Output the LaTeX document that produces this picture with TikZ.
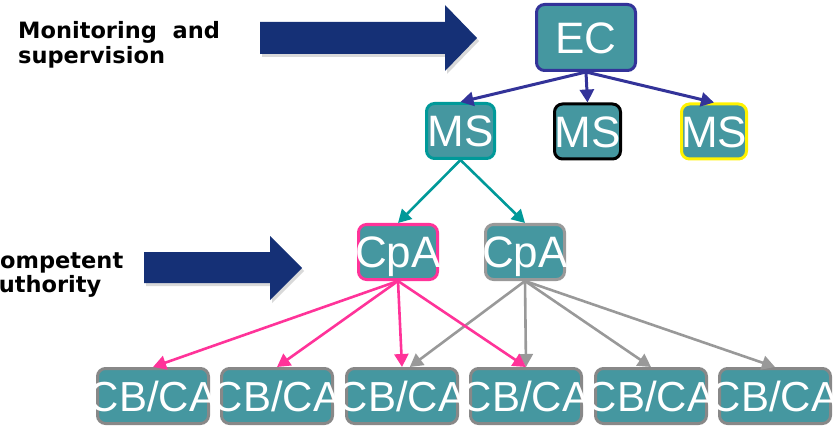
\documentclass[tikz,border=0pt]{standalone}
\usepackage{fontspec}
\setmainfont{Liberation Sans}
\newfontfamily\sidefont{DejaVu Sans}
\usetikzlibrary{arrows.meta}

\definecolor{boxteal}{RGB}{69,151,160}
\definecolor{ecblue}{RGB}{51,51,153}
\definecolor{msteal}{RGB}{0,153,153}
\definecolor{cpapink}{RGB}{255,51,153}
\definecolor{cpagray}{RGB}{153,153,153}
\definecolor{cbgray}{RGB}{136,136,136}
\definecolor{bignavy}{RGB}{21,48,118}

\begin{document}
\begin{tikzpicture}[x=1pt,y=-1pt,
  unit/.style={draw, line width=3pt, fill=boxteal, rounded corners=8pt,
    inner sep=0pt, text=white, text height=31.5pt, text depth=0pt,
    font=\fontsize{44}{44}\selectfont},
  link/.style={line width=2.6pt, -{Triangle[length=13pt,width=14pt]}},
  sidelabel/.style={align=left, inner sep=0pt,
    font=\sidefont\bfseries\fontsize{22.5}{24.5}\selectfont}]
\useasboundingbox (0,0) rectangle (836,433);

% side labels and block arrows
\node[sidelabel, anchor=base west] (monlabel) at (18,63.5) {Monitoring\ \ and\\supervision};
\node[sidelabel, anchor=base west] (calabel) at (-16.5,292.5) {Competent\\authority};
\fill[black, opacity=0.15] (262,25) -- (447,25) -- (447,8) -- (479,41) -- (447,74) -- (447,57) -- (262,57) -- cycle;
\fill[bignavy] (260,22) -- (445,22) -- (445,5) -- (477,38) -- (445,71) -- (445,54) -- (260,54) -- cycle;
\fill[black, opacity=0.15] (146,255) -- (272,255) -- (272,239) -- (304,271) -- (272,303) -- (272,286) -- (146,286) -- cycle;
\fill[bignavy] (144,252) -- (270,252) -- (270,236) -- (302,268) -- (270,300) -- (270,283) -- (144,283) -- cycle;

% EC and member states
\node[unit, draw=ecblue, minimum width=99pt, minimum height=66pt] (ec) at (586,37.5) {\makebox[0pt]{EC}};
\node[unit, draw=msteal, minimum width=68pt, minimum height=55pt] (ms1) at (460.5,131) {\makebox[0pt]{MS}};
\node[unit, draw=black, minimum width=66pt, minimum height=55pt] (ms2) at (587.5,131.5) {\makebox[0pt]{MS}};
\node[unit, draw=yellow, minimum width=65pt, minimum height=55pt] (ms3) at (714,131.5) {\makebox[0pt]{MS}};

% competent authorities
\node[unit, draw=cpapink, minimum width=79pt, minimum height=55pt] (cpa1) at (398,252) {\makebox[0pt]{CpA}};
\node[unit, draw=cpagray, minimum width=79pt, minimum height=55pt] (cpa2) at (525,252) {\makebox[0pt]{CpA}};

% control bodies / control authorities
\foreach \i/\x in {1/153,2/277,3/402,4/526,5/651,6/775}
  \node[unit, draw=cbgray, minimum width=111pt, minimum height=55pt,
    font=\fontsize{42}{42}\selectfont, text height=30pt] (cb\i) at (\x,396) {\makebox[0pt]{CB/CA}};

% connectors
\foreach \m in {ms1,ms2,ms3}
  \draw[link, ecblue, line width=3pt] (ec.south) -- (\m.north);
\draw[link, msteal] (ms1.south) -- (cpa1.north);
\draw[link, msteal] (ms1.south) -- (cpa2.north);
\draw[link, cpagray] (cpa2.south) -- (cb3.75);
\foreach \c in {cb4,cb5,cb6}
  \draw[link, cpagray] (cpa2.south) -- (\c.north);
\foreach \c in {cb1,cb2,cb3,cb4}
  \draw[link, cpapink] (cpa1.south) -- (\c.north);
\end{tikzpicture}
\end{document}
